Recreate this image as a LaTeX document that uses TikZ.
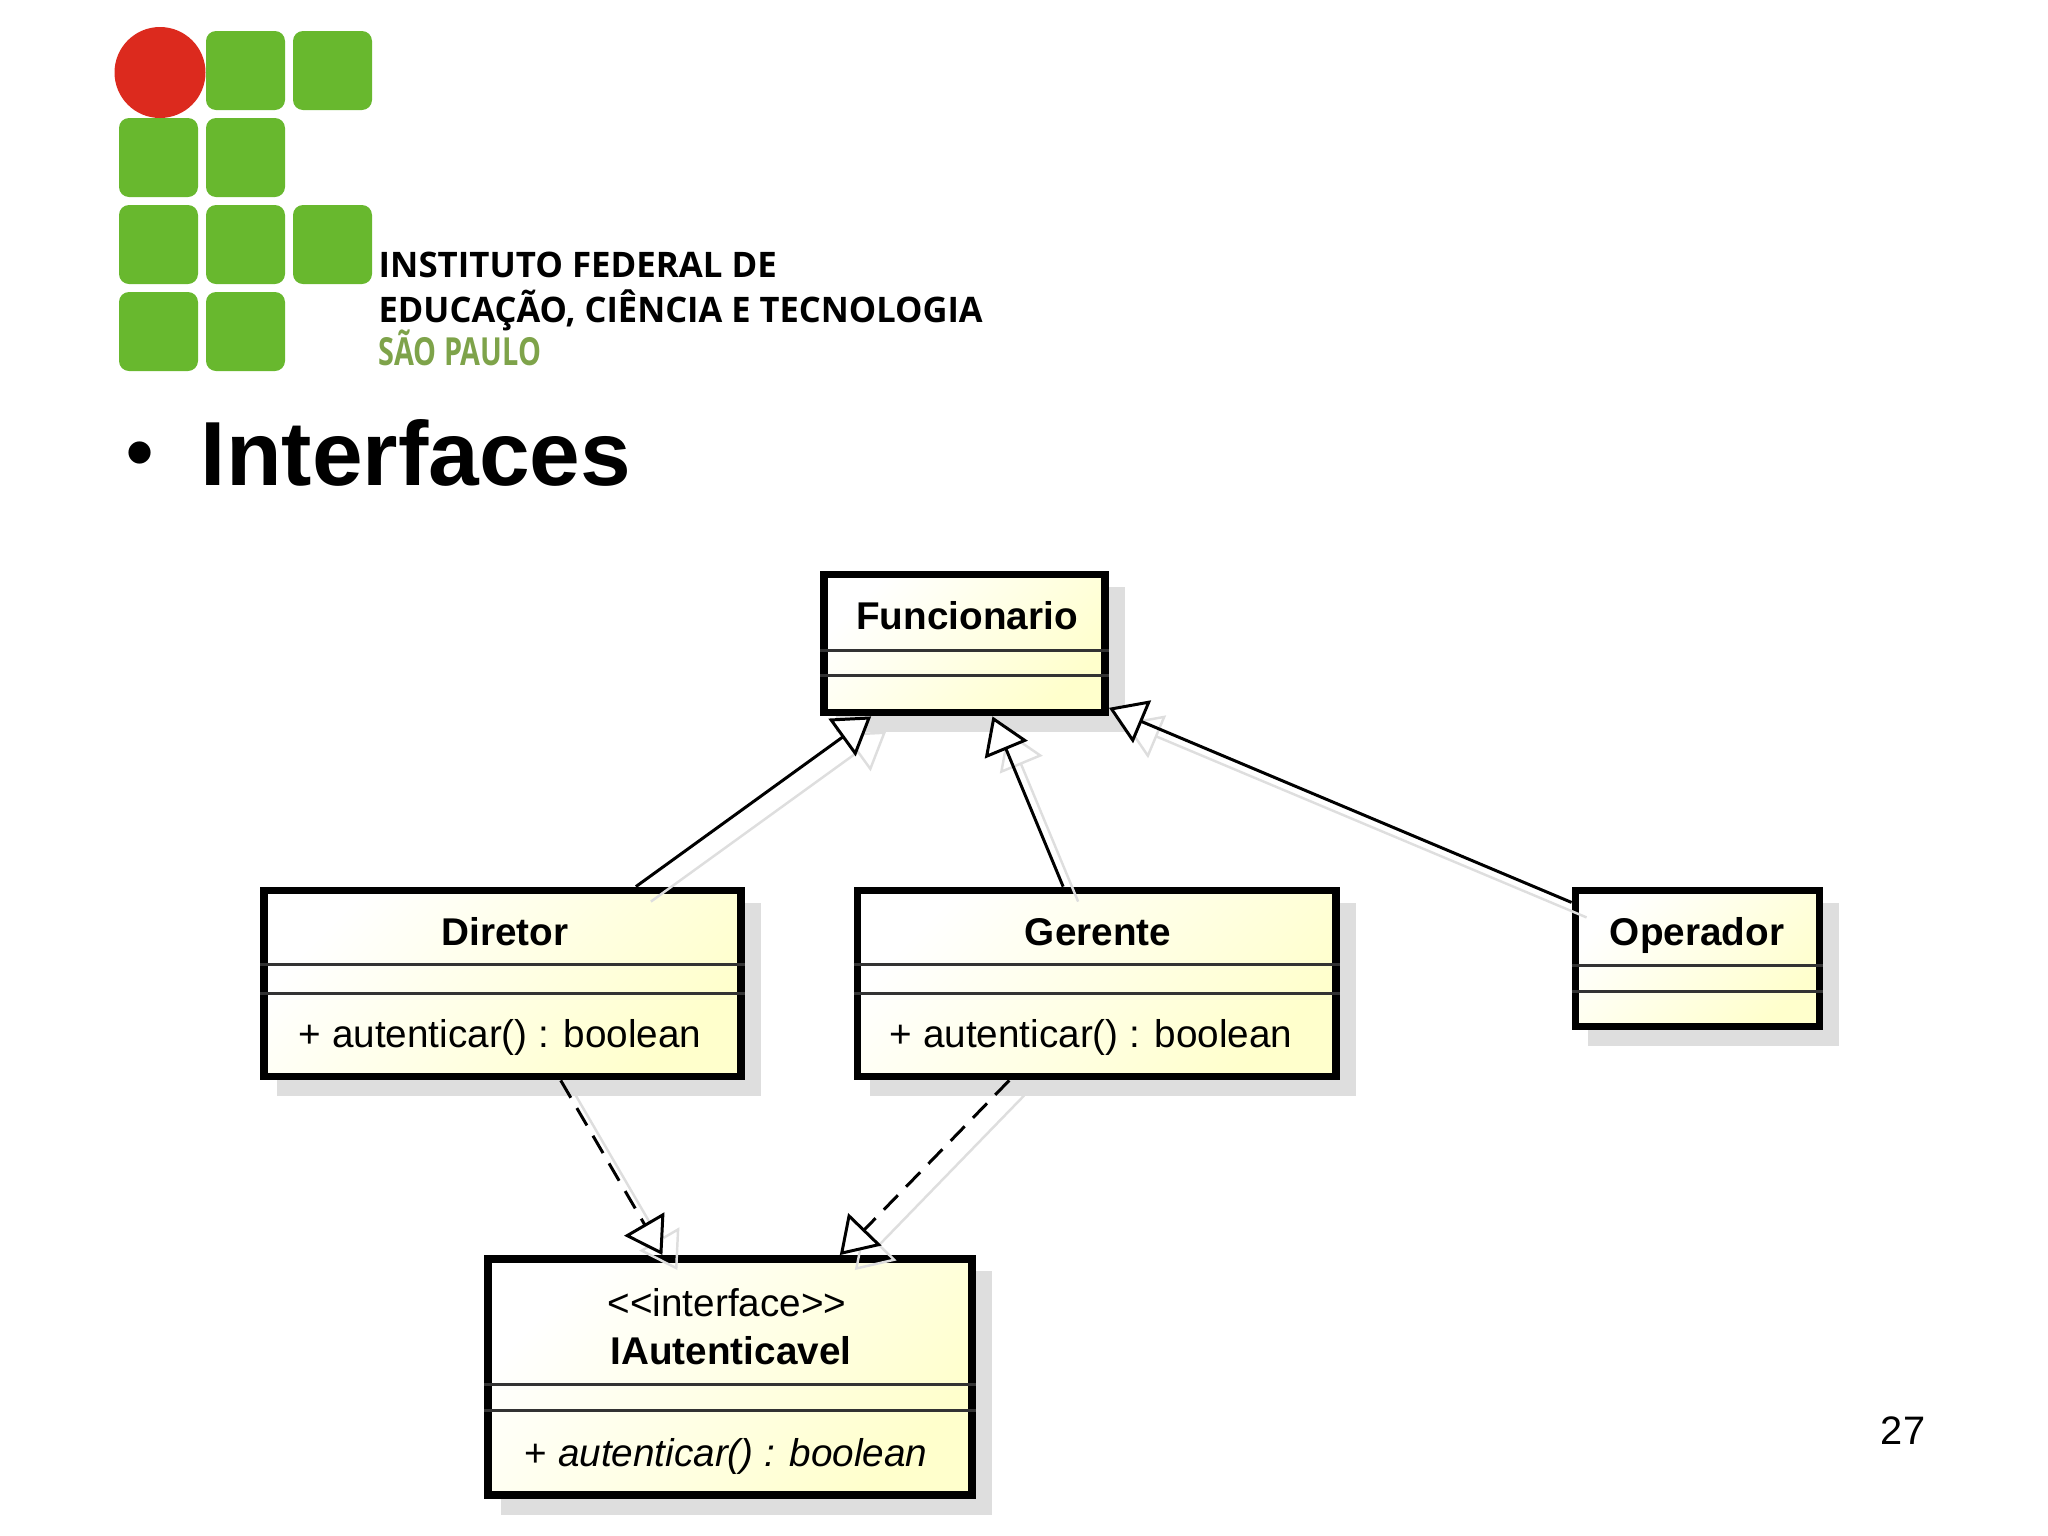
\documentclass[tikz,border=0pt]{standalone}
\usepackage{fontspec}
\setmainfont{Liberation Sans}
\newfontfamily\logofont{Open Sans}
\usetikzlibrary{arrows.meta,shadows}

\definecolor{logogreen}{HTML}{68B82E}
\definecolor{logored}{HTML}{DC2A1E}
\definecolor{logoolive}{HTML}{7EA34A}
\definecolor{umlyellow}{HTML}{FFFFCC}
\definecolor{umlshadow}{HTML}{DEDEDE}

\tikzset{
	logobox/.style={fill=logogreen,rounded corners=0.1cm},
	logotext/.style={anchor=base west,inner sep=0,font=\logofont\bfseries\fontsize{10}{12}\selectfont},
	umlclass/.style={rectangle,draw=black,line width=2.2pt,shade,shading=axis,left color=white,right color=umlyellow,shading angle=45,
		general shadow={shadow xshift=0.16cm,shadow yshift=-0.16cm,fill=umlshadow,draw=umlshadow}},
	umlsep/.style={draw=black!80,line width=0.85pt},
	umltext/.style={inner sep=0,font=\fontsize{11}{13}\selectfont},
	umlname/.style={umltext,font=\bfseries\fontsize{11}{13}\selectfont},
	extends/.style={line width=0.85pt,-{Triangle[open,fill=white,length=0.36cm,width=0.46cm]}},
	realizes/.style={extends,dash pattern=on 5.7pt off 3.4pt},
	ghost/.style={line width=0.7pt,draw=umlshadow,-{Triangle[open,fill=none,length=0.36cm,width=0.46cm]}}
}

\begin{document}
\begin{tikzpicture}[x=0.01cm,y=-0.01cm]
	\useasboundingbox (0,0) rectangle (2048,1536);

	% logo
	\fill[logobox] (206,31) rectangle (285,110);
	\fill[logobox] (293,31) rectangle (372,110);
	\fill[logobox] (119,118) rectangle (198,197);
	\fill[logobox] (206,118) rectangle (285,197);
	\fill[logobox] (119,205) rectangle (198,284);
	\fill[logobox] (206,205) rectangle (285,284);
	\fill[logobox] (293,205) rectangle (372,284);
	\fill[logobox] (119,292) rectangle (198,371);
	\fill[logobox] (206,292) rectangle (285,371);
	\fill[logored] (160,72.5) circle (45.5);
	\node[logotext,xscale=0.99] (logoa) at (378,277) {INSTITUTO FEDERAL DE};
	\node[logotext,xscale=0.98] (logob) at (378,322) {EDUCAÇÃO, CIÊNCIA E TECNOLOGIA};
	\node[logotext,xscale=0.82,yscale=1.1,logoolive] (logoc) at (378,365) {SÃO PAULO};

	% title
	\node[anchor=base west,inner sep=0,font=\bfseries\fontsize{22}{26}\selectfont] (bullet) at (126,478) {•};
	\node[anchor=base west,inner sep=0,font=\bfseries\fontsize{25.9}{30}\selectfont] (title) at (200,485) {Interfaces};
	\node[umltext,font=\fontsize{11.3}{13}\selectfont] (pagenum) at (1903,1431) {27};

	% classes
	\node[umlclass,minimum width=2.81cm,minimum height=1.38cm] (funcionario) at (964.5,643.5) {};
	\node[umlclass,minimum width=4.76cm,minimum height=1.86cm] (diretor) at (502.5,983.5) {};
	\node[umlclass,minimum width=4.78cm,minimum height=1.86cm] (gerente) at (1096.5,983.5) {};
	\node[umlclass,minimum width=2.44cm,minimum height=1.36cm] (operador) at (1697.5,958.5) {};
	\node[umlclass,minimum width=4.83cm,minimum height=2.36cm] (iautenticavel) at (730,1377) {};

	\draw[umlsep] (funcionario.west |- 0,650) -- (funcionario.east |- 0,650);
	\draw[umlsep] (funcionario.west |- 0,675) -- (funcionario.east |- 0,675);
	\draw[umlsep] (diretor.west |- 0,964) -- (diretor.east |- 0,964);
	\draw[umlsep] (diretor.west |- 0,993) -- (diretor.east |- 0,993);
	\draw[umlsep] (gerente.west |- 0,964) -- (gerente.east |- 0,964);
	\draw[umlsep] (gerente.west |- 0,993) -- (gerente.east |- 0,993);
	\draw[umlsep] (operador.west |- 0,965) -- (operador.east |- 0,965);
	\draw[umlsep] (operador.west |- 0,991) -- (operador.east |- 0,991);
	\draw[umlsep] (iautenticavel.west |- 0,1384) -- (iautenticavel.east |- 0,1384);
	\draw[umlsep] (iautenticavel.west |- 0,1410) -- (iautenticavel.east |- 0,1410);

	\node[umlname] (funcionarioname) at (967,616) {Funcionario};
	\node[umlname] (diretorname) at (505,932) {Diretor};
	\node[umltext] (diretorop) at (500,1037) {+ autenticar() : boolean};
	\node[umlname] (gerentename) at (1098,932) {Gerente};
	\node[umltext] (gerenteop) at (1091,1037) {+ autenticar() : boolean};
	\node[umlname] (operadorname) at (1697,935) {Operador};
	\node[umltext] (stereotype) at (727,1303) {<{}<interface>{}>};
	\node[umlname] (iautenticavelname) at (731,1351) {IAutenticavel};
	\node[umltext] (iautenticavelop) at (726,1456) {+ \textit{autenticar() : boolean}};

	% connector shadows
	\draw[ghost] ([shift={(15,15)}]diretor.36.5) -- ([shift={(15,15)}]funcionario.-142.5);
	\draw[ghost] ([shift={(15,15)}]gerente.109.7) -- ([shift={(15,15)}]funcionario.-69.2);
	\draw[ghost] ([shift={(15,15)}]operador.156.9) -- ([shift={(15,15)}]funcionario.-24);
	\draw[ghost] ([shift={(15,15)}]diretor.-59.7) -- ([shift={(15,15)}]iautenticavel.119);
	\draw[ghost] ([shift={(15,15)}]gerente.-132.5) -- ([shift={(15,15)}]iautenticavel.48.2);

	% connectors
	\draw[extends] (diretor.36.5) -- (funcionario.-142.5);
	\draw[extends] (gerente.109.7) -- (funcionario.-69.2);
	\draw[extends] (operador.156.9) -- (funcionario.-24);
	\draw[realizes] (diretor.-59.7) -- (iautenticavel.119);
	\draw[realizes] (gerente.-132.5) -- (iautenticavel.48.2);
\end{tikzpicture}
\end{document}
